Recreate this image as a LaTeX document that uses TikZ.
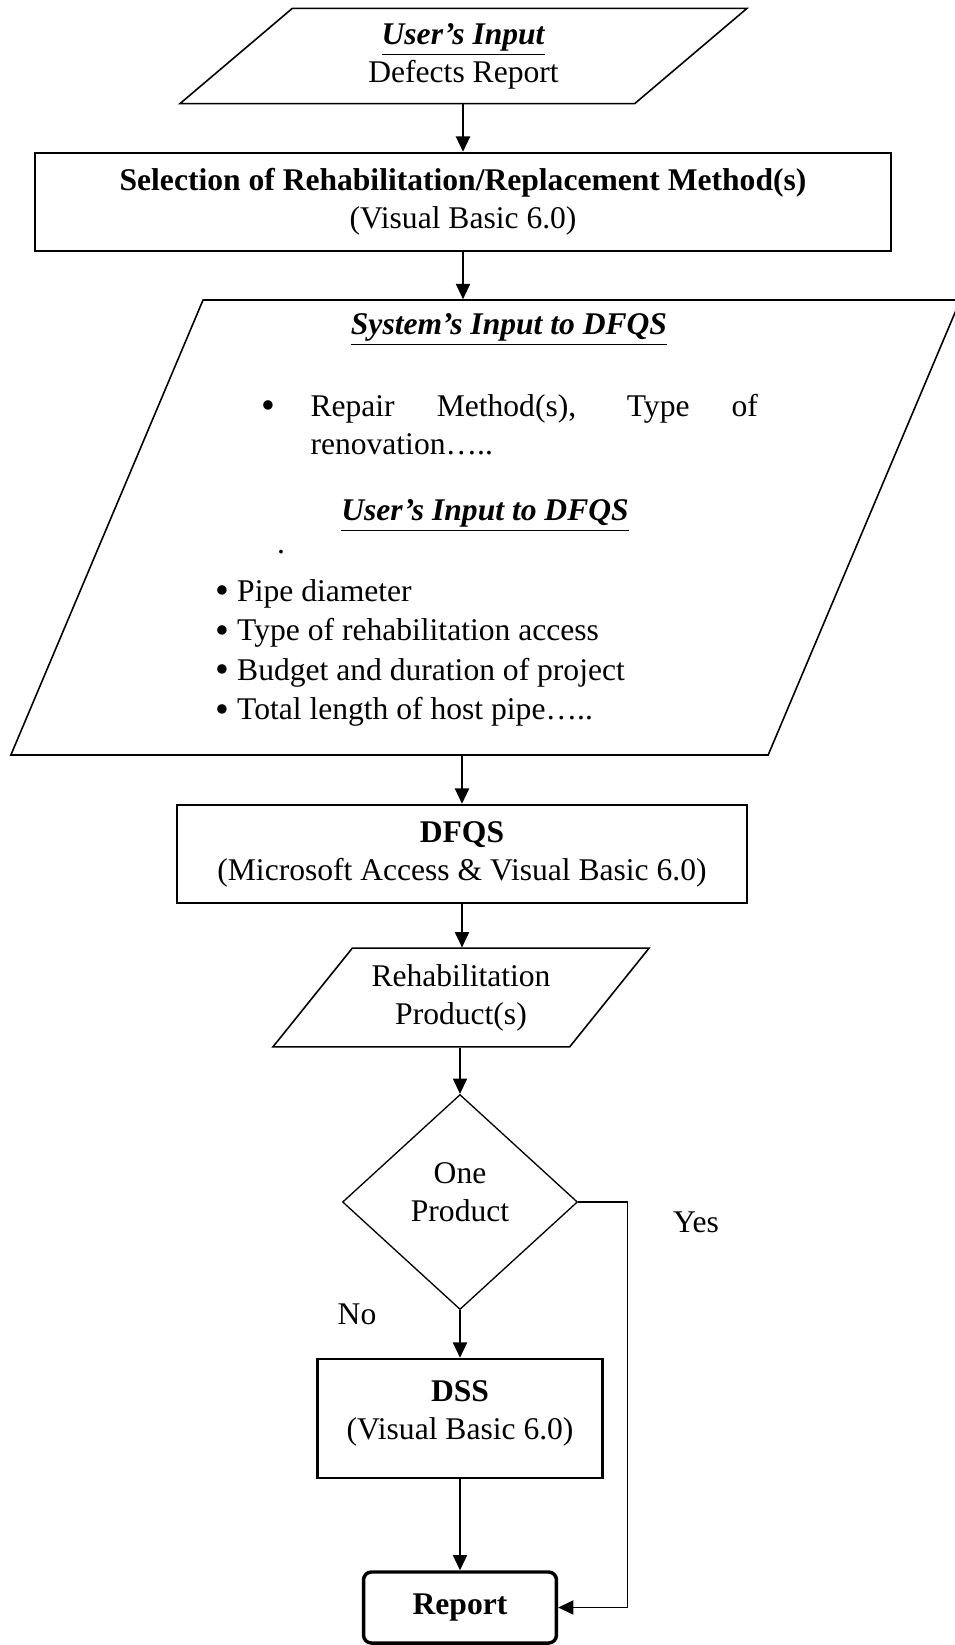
\documentclass[tikz,border=0pt]{standalone}
\usepackage{fontspec}
\setmainfont{Liberation Serif}
\usetikzlibrary{shapes.geometric,arrows.meta}
\newcommand{\bul}{\raisebox{-0.9pt}{\fontsize{15}{15}\selectfont •}}
\tikzset{
  txt/.style={font=\fontsize{12}{14.5}\selectfont, inner sep=0pt},
  ttl/.style={txt, font=\fontsize{12}{14.5}\selectfont\bfseries\itshape},
  iobox/.style={txt, draw, line width=0.6pt, trapezium, trapezium stretches body, inner xsep=0pt, align=center},
  procbox/.style={txt, draw, line width=1pt, rectangle, align=center},
  decide/.style={txt, draw, line width=0.5pt, diamond, align=center},
  endbox/.style={txt, draw, line width=1.3pt, rounded corners=3pt, align=center},
  arr/.style={line width=0.5pt, -{Triangle[length=5.8pt,width=5.4pt]}},
}

\begin{document}
\begin{tikzpicture}[x=0.38pt, y=-0.38pt]
	%%%%% START %%%%%
	\useasboundingbox (0,0) rectangle (954,1645);
	
	\node[iobox, trapezium left angle=40.3, trapezium right angle=139.7, inner ysep=5.6pt, minimum width=215.5pt] (usrin) at (463.5,56) {\underline{\textbf{\textit{User’s Input}}}\\Defects Report};
	
	\node[procbox, minimum width=325.3pt, minimum height=37.2pt] (sel) at (463,202) {\textbf{Selection of Rehabilitation/Replacement Method(s)}\\(Visual Basic 6.0)};
	
	% inputs to DFQS
	\node[iobox, trapezium left angle=67.1, trapezium right angle=112.9, inner ysep=86.45pt, minimum width=360.8pt] (sysin) at (485.6,527.5) {};
	\node[ttl] (systtl) at (509,330) {\underline{System’s Input to DFQS}};
	\node[txt] (sysbul) at (268,410) {\bul};
	\node[txt, anchor=north west, text width=170pt, align=justify] (sysitem) at (310,394) {Repair Method(s), Type of\linebreak renovation…..};
	\node[ttl] (usrttl) at (485,516) {\underline{User’s Input to DFQS}};
	\node[txt] (usrdot) at (281,552) {.};
	\node[txt, font=\fontsize{12}{15}\selectfont, anchor=west, align=left] (usrlist) at (215,653) {\bul\ Pipe diameter\\\bul\ Type of rehabilitation access\\\bul\ Budget and duration of project\\\bul\ Total length of host pipe…..};
	
	\node[procbox, minimum width=216.6pt, minimum height=37.2pt] (dfqs) at (462,854) {\textbf{DFQS}\\(Microsoft Access \& Visual Basic 6.0)};
	
	\node[iobox, trapezium left angle=51.2, trapezium right angle=128.8, inner ysep=6.05pt, minimum width=142.9pt] (prods) at (461,997.5) {Rehabilitation\\Product(s)};
	
	\node[decide, minimum width=89.3pt, minimum height=81.7pt] (oneprod) at (460,1202) {One\\Product\rule[-7.6pt]{0pt}{7.6pt}};
	\node[txt] (yes) at (696,1222) {Yes};
	\node[txt] (no) at (357,1314) {No};
	
	\node[procbox, minimum width=108.3pt, minimum height=45.2pt] (dss) at (460,1418.5) {\textbf{DSS}\\(Visual Basic 6.0)\rule[-6.4pt]{0pt}{6.4pt}};
	
	\node[endbox, minimum width=73.3pt, minimum height=27pt] (report) at (460,1607.5) {\textbf{Report}};
	
	% connectors
	\draw[arr] (usrin.south -| sel.north) -- (sel.north);
	\draw[arr] (sel.south) -- (sel.south |- sysin.north);
	\draw[arr] (sysin.south -| dfqs.north) -- (dfqs.north);
	\draw[arr] (dfqs.south) -- (dfqs.south |- prods.north);
	\draw[arr] (prods.south -| oneprod.north) -- (oneprod.north);
	\draw[arr] (oneprod.south) -- (dss.north);
	\draw[arr] (dss.south) -- (report.north);
	\draw[arr] (oneprod.east) -- ++(49,0) |- (report.east);
	
	%%%%% END %%%%%
\end{tikzpicture}
\end{document}
